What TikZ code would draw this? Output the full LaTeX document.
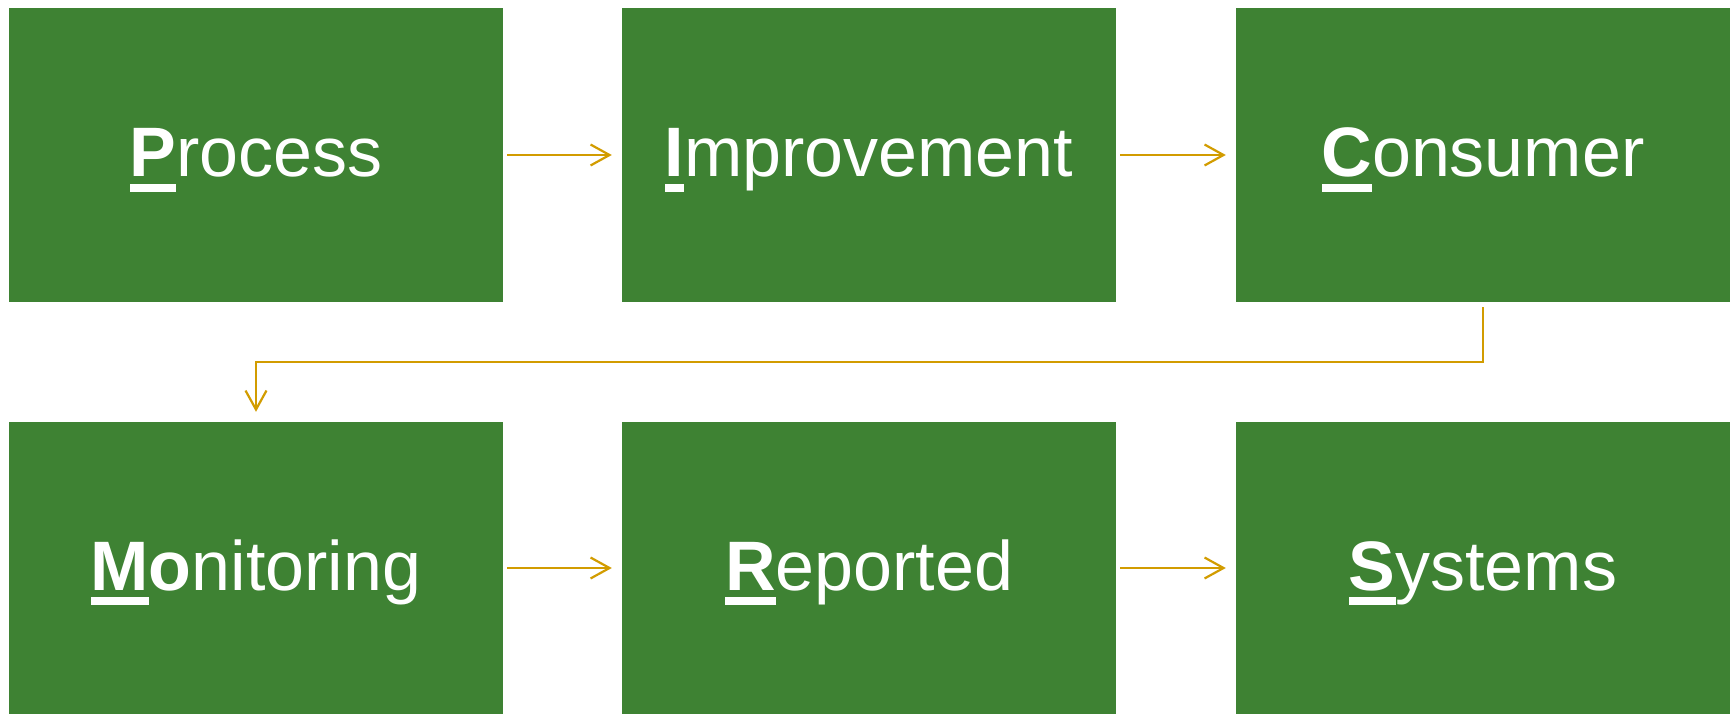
\documentclass[tikz,border=0pt]{standalone}
\usepackage{fontspec}
\setmainfont{Liberation Sans}
\usetikzlibrary{arrows.meta}

\definecolor{boxgreen}{RGB}{62,130,51}
\definecolor{flowgold}{RGB}{210,156,0}

% bold initial letter with a heavy underline
\newsavebox\initbox
\newcommand\capinit[1]{\sbox\initbox{\bfseries #1}\rlap{\rule[-15pt]{\wd\initbox}{8pt}}\usebox\initbox}

\tikzset{
  stage/.style={rectangle, fill=boxgreen, inner sep=0pt,
    minimum width=494pt, minimum height=294pt,
    text=white, font=\fontsize{70}{84}\selectfont,
    text height=44pt, text depth=0pt},
  lowstage/.style={stage, minimum height=292pt},
  flow/.style={draw=flowgold, line width=2.4pt,
    -{Straight Barb[length=19pt,width=21pt,line width=2.2pt]},
    shorten <=4pt, shorten >=10pt}
}

\begin{document}
\begin{tikzpicture}[x=1pt,y=-1pt]
  \fill[white] (0,0) rectangle (1733,714);
  \useasboundingbox (0,0) rectangle (1733,714);

  \node[stage]    (p) at (256,155)  {\capinit{P}rocess};
  \node[stage]    (i) at (869,155)  {\capinit{I}mprovement};
  \node[stage]    (c) at (1483,155) {\capinit{C}onsumer};
  \node[lowstage] (m) at (256,568)  {\capinit{M}\textbf{o}nitoring};
  \node[lowstage] (r) at (869,568)  {\capinit{R}eported};
  \node[lowstage] (s) at (1483,568) {\capinit{S}ystems};

  \draw[flow] (p.east) -- (i.west);
  \draw[flow] (i.east) -- (c.west);
  \draw[flow, shorten <=5pt] (c.south) -- ++(0,60) -| (m.north);
  \draw[flow] (m.east) -- (r.west);
  \draw[flow] (r.east) -- (s.west);
\end{tikzpicture}
\end{document}
